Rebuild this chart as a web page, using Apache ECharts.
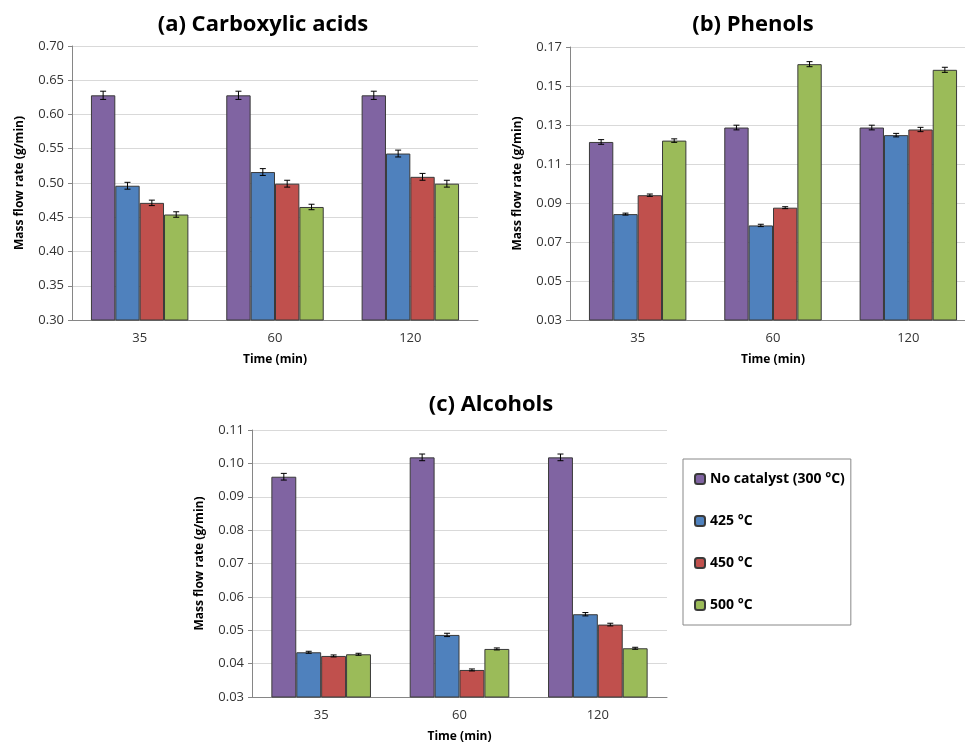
<!DOCTYPE html>
<html>
<head>
<meta charset="utf-8">
<script src="https://cdn.jsdelivr.net/npm/echarts@6/dist/echarts.min.js"></script>
<style>
  html, body { margin: 0; padding: 0; background: #fff; overflow: hidden; }
  #chart { width: 990px; height: 745px; }
</style>
</head>
<body>
<div id="chart"></div>
<script>
var seriesNames = ['No catalyst (300 °C)', '425 °C', '450 °C', '500 °C'];
var timeLabels = ['35', '60', '120'];

// values per series, across time
var acidsVals = [[0.628, 0.628, 0.628], [0.496, 0.516, 0.543], [0.471, 0.499, 0.509], [0.454, 0.465, 0.499]];
var acidsErr = [[0.006, 0.006, 0.006], [0.005, 0.005, 0.005], [0.004, 0.005, 0.005], [0.004, 0.004, 0.005]];
var phenolsVals = [[0.1213, 0.1287, 0.1287], [0.0843, 0.0785, 0.1248], [0.0940, 0.0876, 0.1277], [0.1220, 0.1612, 0.1583]];
var phenolsErr = [[0.0012, 0.0012, 0.0012], [0.0005, 0.0006, 0.0009], [0.0006, 0.0005, 0.0011], [0.0009, 0.0013, 0.0013]];
var alcoholsVals = [[0.0960, 0.1018, 0.1018], [0.0434, 0.0486, 0.0548], [0.0423, 0.0381, 0.0517], [0.0428, 0.0444, 0.0446]];
var alcoholsErr = [[0.0010, 0.0010, 0.0010], [0.0003, 0.0005, 0.0005], [0.0003, 0.0003, 0.0004], [0.0003, 0.0003, 0.0003]];

var colors = ['#8064A2', '#4F81BD', '#C0504D', '#9BBB59'];
var gapRatio = 0.28;

var chart = echarts.init(document.getElementById('chart'), null, { renderer: 'canvas' });

function errRender(params, api) {
  var c = api.value(0), v = api.value(1), e = api.value(2), s = api.value(3);
  var catW = api.size([1, 0])[0];
  var groupW = catW * (1 - gapRatio);
  var bw = groupW / 4;
  var base = api.coord([c, v]);
  var x = base[0] - groupW / 2 + bw * (s + 0.5);
  var top = api.coord([c, v + e])[1];
  var bot = api.coord([c, v - e])[1];
  var st = { stroke: '#000', lineWidth: 1 };
  return {
    type: 'group',
    children: [
      { type: 'line', shape: { x1: x, y1: top, x2: x, y2: bot }, style: st },
      { type: 'line', shape: { x1: x - 3, y1: top, x2: x + 3, y2: top }, style: st },
      { type: 'line', shape: { x1: x - 3, y1: bot, x2: x + 3, y2: bot }, style: st }
    ]
  };
}

function yAxis(gi, min, max, interval) {
  return {
    type: 'value', gridIndex: gi, min: min, max: max, interval: interval,
    name: 'Mass flow rate (g/min)', nameLocation: 'middle', nameGap: 46,
    nameTextStyle: { fontWeight: 'bold', fontSize: 12, color: '#000' },
    axisLine: { show: true, lineStyle: { color: '#868686' } },
    axisTick: { show: true, length: 4, lineStyle: { color: '#868686' } },
    axisLabel: { color: '#333', fontSize: 13, formatter: function(v) { return v.toFixed(2); } },
    splitLine: { lineStyle: { color: '#d9d9d9' } }
  };
}

function xAxis(gi) {
  return {
    type: 'category', gridIndex: gi, data: timeLabels,
    name: 'Time (min)', nameLocation: 'middle', nameGap: 34,
    nameTextStyle: { fontWeight: 'bold', fontSize: 12, color: '#000' },
    axisLine: { lineStyle: { color: '#868686' } },
    axisTick: { alignWithLabel: true, length: 5, lineStyle: { color: '#868686' } },
    axisLabel: { color: '#333', fontSize: 13, margin: 12 }
  };
}

var series = [];
[[acidsVals, acidsErr], [phenolsVals, phenolsErr], [alcoholsVals, alcoholsErr]].forEach(function(set, gi) {
  var vals = set[0], errs = set[1];
  var errData = [];
  for (var s = 0; s < 4; s++) {
    series.push({
      type: 'bar', name: seriesNames[s], xAxisIndex: gi, yAxisIndex: gi,
      data: vals[s], barGap: '0%', barCategoryGap: (gapRatio * 100) + '%',
      itemStyle: { color: colors[s], borderColor: '#3a3a3a', borderWidth: 1 }
    });
    for (var t = 0; t < 3; t++) errData.push([t, vals[s][t], errs[s][t], s]);
  }
  series.push({
    type: 'custom', xAxisIndex: gi, yAxisIndex: gi, z: 5,
    renderItem: errRender, data: errData, encode: { x: 0, y: 1 }
  });
});

chart.setOption({
  animation: false,
  textStyle: { fontFamily: 'Open Sans' },
  title: [
    { text: '(a) Carboxylic acids', left: 258, top: 9, textAlign: 'center', textStyle: { fontSize: 22, fontWeight: 'bold', color: '#000' } },
    { text: '(b) Phenols', left: 748, top: 9, textAlign: 'center', textStyle: { fontSize: 22, fontWeight: 'bold', color: '#000' } },
    { text: '(c) Alcohols', left: 486, top: 389, textAlign: 'center', textStyle: { fontSize: 22, fontWeight: 'bold', color: '#000' } }
  ],
  legend: {
    data: seriesNames, orient: 'vertical', left: 683, top: 459,
    itemWidth: 10, itemHeight: 10, itemGap: 26,
    padding: [12, 6, 12, 11],
    borderColor: '#888', borderWidth: 1,
    textStyle: { fontSize: 14, fontWeight: 'bold', color: '#000', lineHeight: 16 }
  },
  grid: [
    { left: 72, top: 46, width: 406, height: 274 },
    { left: 570, top: 47, width: 406, height: 273 },
    { left: 252, top: 430, width: 415, height: 267 }
  ],
  xAxis: [xAxis(0), xAxis(1), xAxis(2)],
  yAxis: [yAxis(0, 0.3, 0.7, 0.05), yAxis(1, 0.03, 0.17, 0.02), yAxis(2, 0.03, 0.11, 0.01)],
  series: series
});
</script>
</body>
</html>
